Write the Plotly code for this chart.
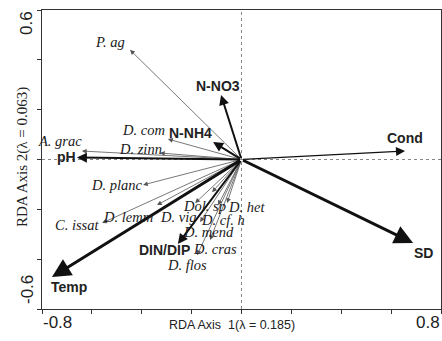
import plotly.graph_objects as go

# ---- data (RDA biplot scores) ----
species = ["P. ag", "D. com", "D. zinn", "A. grac", "D. planc", "C. issat", "D. lemm",
           "D. vig", "Dol. sp", "D. het", "D. cf. h", "D. mend", "D. cras", "D. flos"]
species_x = [-0.447, -0.295, -0.327, -0.640, -0.395, -0.559, -0.339,
             -0.186, -0.118, -0.058, -0.094, -0.166, -0.126, -0.178]
species_y = [0.440, 0.082, 0.026, 0.034, -0.102, -0.255, -0.183,
             -0.175, -0.131, -0.175, -0.183, -0.251, -0.323, -0.384]

env = ["N-NO3", "N-NH4", "pH", "Cond", "SD", "Temp", "DIN/DIP"]
env_x = [-0.082, -0.114, -0.660, 0.656, 0.688, -0.760, -0.255]
env_y = [0.259, 0.070, 0.008, 0.034, -0.335, -0.472, -0.339]

x_range = [-0.8, 0.8]
y_range = [-0.6, 0.6]
x_ticks = [-0.8, -0.6, -0.4, -0.2, 0.0, 0.2, 0.4, 0.6, 0.8]
y_ticks = [-0.6, -0.4, -0.2, 0.0, 0.2, 0.4, 0.6]
x_title = "RDA Axis  1(λ = 0.185)"
y_title = "RDA Axis 2(λ = 0.063)"

# ---- label placement (layout only) ----
species_lab_x = [-0.527, -0.395, -0.407, -0.728, -0.499, -0.660, -0.455,
                 -0.255, -0.150, 0.022, -0.074, -0.134, -0.106, -0.219]
species_lab_y = [0.472, 0.118, 0.042, 0.074, -0.102, -0.263, -0.231,
                 -0.231, -0.187, -0.191, -0.241, -0.289, -0.359, -0.424]
env_lab_x = [-0.094, -0.206, -0.700, 0.656, 0.728, -0.692, -0.307]
env_lab_y = [0.295, 0.106, 0.010, 0.086, -0.376, -0.512, -0.363]
env_width = [2, 2, 2, 1.3, 3, 3, 2]
env_head = [1.0, 1.0, 1.0, 1.4, 1.25, 1.25, 1.0]

SANS = "Liberation Sans, Arial, sans-serif"
SERIF = "Liberation Serif, Times New Roman, serif"

fig = go.Figure()
fig.add_trace(go.Scatter(x=[0], y=[0], mode="markers", marker=dict(size=1, color="rgba(0,0,0,0)"),
                         hoverinfo="skip", showlegend=False))

ann = []
# species arrows
for sx, sy in zip(species_x, species_y):
    ann.append(dict(x=sx, y=sy, ax=0, ay=0, xref="x", yref="y", axref="x", ayref="y",
                    text="", showarrow=True, arrowhead=2, arrowsize=1.2, arrowwidth=0.8,
                    arrowcolor="#555555", startstandoff=0, standoff=0))
# env arrows
for ex, ey, w, h in zip(env_x, env_y, env_width, env_head):
    ann.append(dict(x=ex, y=ey, ax=0, ay=0, xref="x", yref="y", axref="x", ayref="y",
                    text="", showarrow=True, arrowhead=2, arrowsize=h, arrowwidth=w,
                    arrowcolor="#111111", startstandoff=0, standoff=0))
# species labels
for name, lx, ly in zip(species, species_lab_x, species_lab_y):
    ann.append(dict(x=lx, y=ly, xref="x", yref="y", text=name, showarrow=False,
                    xanchor="center", yanchor="middle",
                    font=dict(family=SERIF, size=14.5, color="#1a1a1a", style="italic")))
# env labels
for name, lx, ly in zip(env, env_lab_x, env_lab_y):
    ann.append(dict(x=lx, y=ly, xref="x", yref="y", text="<b>" + name + "</b>", showarrow=False,
                    xanchor="center", yanchor="middle",
                    font=dict(family=SANS, size=14, color="#222222")))

# tick labels (only extremes shown, placed inward)
def px2paper_x(px):
    return (px - 42) / 399.0

def px2paper_y(py):
    return (309 - py) / 299.0

def outer(px, py, text, font, angle=0):
    return dict(x=px2paper_x(px), y=px2paper_y(py), xref="paper", yref="paper",
                xanchor="center", yanchor="middle", text=text, showarrow=False,
                font=font, textangle=angle)

tick_font = dict(family=SANS, size=17, color="#222222")
ann.append(outer(57, 322, "{:.1f}".format(x_ticks[0]), tick_font))
ann.append(outer(428, 322, "{:.1f}".format(x_ticks[-1]), tick_font))
ann.append(outer(27, 23, "{:.1f}".format(y_ticks[-1]), tick_font, -90))
ann.append(outer(27, 290, "{:.1f}".format(y_ticks[0]), tick_font, -90))
# axis titles
ann.append(outer(232, 325, x_title, dict(family=SANS, size=12.5, color="#222222")))
ann.append(outer(22, 157, y_title, dict(family=SERIF, size=15, color="#222222"), -90))

shapes = [
    dict(type="line", x0=0, x1=0, y0=y_range[0], y1=y_range[1], xref="x", yref="y",
         line=dict(color="#888888", width=1, dash="dot"), layer="below"),
    dict(type="line", x0=x_range[0], x1=x_range[1], y0=0, y1=0, xref="x", yref="y",
         line=dict(color="#888888", width=1, dash="dot"), layer="below"),
]

fig.update_layout(
    width=442, height=341,
    margin=dict(l=42, r=1, t=10, b=32),
    paper_bgcolor="white", plot_bgcolor="white",
    showlegend=False,
    annotations=ann, shapes=shapes,
    xaxis=dict(range=x_range, tickvals=x_ticks, showticklabels=False, ticks="outside",
               ticklen=4, tickcolor="#333333", showline=True, linecolor="#333333", linewidth=1.2,
               mirror=True, showgrid=False, zeroline=False, fixedrange=True),
    yaxis=dict(range=y_range, tickvals=y_ticks, showticklabels=False, ticks="outside",
               ticklen=4, tickcolor="#333333", showline=True, linecolor="#333333", linewidth=1.2,
               mirror=True, showgrid=False, zeroline=False, fixedrange=True),
)

fig.write_html("out.html", config={"displayModeBar": False})
